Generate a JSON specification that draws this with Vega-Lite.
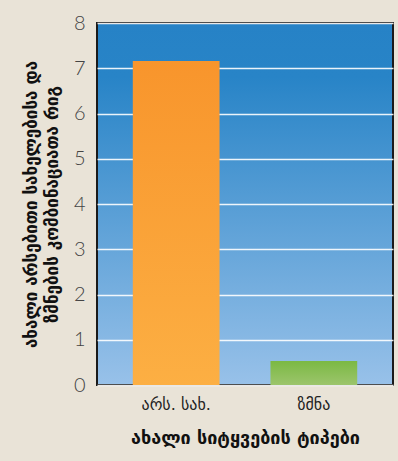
{
  "$schema": "https://vega.github.io/schema/vega-lite/v6.json",
  "autosize": "none",
  "width": 296,
  "height": 362,
  "padding": {"left": 97, "top": 23, "right": 5, "bottom": 76},
  "background": "#e9e3d7",
  "config": {
    "view": {
      "fill": {"gradient": "linear", "x1": 0, "y1": 0, "x2": 0, "y2": 1, "stops": [{"offset": 0, "color": "#2682c6"}, {"offset": 0.15, "color": "#2884c7"}, {"offset": 1, "color": "#98c1e9"}]},
      "stroke": "#1a1a1a",
      "strokeWidth": 2
    }
  },
  "data": {"values": [
    {"type": "არს. სახ.", "value": 7.16},
    {"type": "ზმნა", "value": 0.53}
  ]},
  "mark": {"type": "bar"},
  "encoding": {
    "x": {
      "field": "type", "type": "nominal", "sort": null,
      "scale": {"paddingInner": 0.37, "paddingOuter": 0.26},
      "axis": {
        "title": "ახალი სიტყვების ტიპები",
        "titleFont": "DejaVu Sans", "titleFontSize": 18, "titleFontWeight": "bold", "titleColor": "#111", "titlePadding": 17,
        "labelFont": "DejaVu Sans", "labelFontSize": 16, "labelColor": "#222", "labelAngle": 0, "labelPadding": 11,
        "ticks": false, "domain": false
      }
    },
    "y": {
      "field": "value", "type": "quantitative",
      "scale": {"domain": [0, 8], "nice": false},
      "axis": {
        "values": [0, 1, 2, 3, 4, 5, 6, 7, 8],
        "title": ["ახალი არსებითი სახელებისა და", "ზმნების კომბინაციათა რიგ"],
        "titleFont": "DejaVu Sans", "titleFontSize": 17, "titleFontWeight": "bold", "titleColor": "#111", "titlePadding": 12, "titleLineHeight": 21,
        "labelFont": "Lato", "labelFontWeight": 300, "labelFontSize": 20, "labelColor": "#444", "labelPadding": 12,
        "ticks": false, "domain": false,
        "grid": true, "gridColor": "#ffffff", "gridWidth": 1.5, "gridOpacity": 0.9
      }
    },
    "color": {
      "condition": {"test": "datum.type === 'ზმნა'", "value": {"gradient": "linear", "x1": 0, "y1": 0, "x2": 0, "y2": 1, "stops": [{"offset": 0, "color": "#7bb943"}, {"offset": 1, "color": "#9cc56c"}]}},
      "value": {"gradient": "linear", "x1": 0, "y1": 0, "x2": 0, "y2": 1, "stops": [{"offset": 0, "color": "#f8952c"}, {"offset": 1, "color": "#fcaf43"}]}
    }
  }
}
